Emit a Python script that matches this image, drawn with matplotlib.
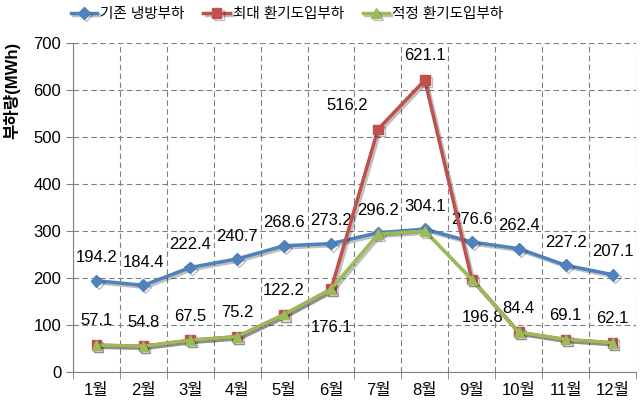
import numpy as np
import matplotlib.pyplot as plt
import matplotlib.patheffects as pe

plt.rcParams['font.family'] = ['Liberation Sans', 'Noto Sans CJK KR']

months = ['1월', '2월', '3월', '4월', '5월', '6월', '7월', '8월', '9월', '10월', '11월', '12월']
base_load = [194.2, 184.4, 222.4, 240.7, 268.6, 273.2, 296.2, 304.1, 276.6, 262.4, 227.2, 207.1]
max_vent = [57.1, 54.8, 67.5, 75.2, 122.2, 176.1, 516.2, 621.1, 196.8, 84.4, 69.1, 62.1]
opt_vent = [57.1, 54.8, 67.5, 75.2, 122.2, 176.1, 293.0, 300.0, 196.8, 84.4, 69.1, 62.1]
series_names = ['기존 냉방부하', '최대 환기도입부하', '적정 환기도입부하']

fig = plt.figure(figsize=(6.43, 4.05), dpi=100)
ax = fig.add_axes([73 / 643, 33 / 405, 563 / 643, 329 / 405])
x = np.arange(len(months))

shadow = [pe.SimpleLineShadow(offset=(1.5, -1.5), alpha=0.25), pe.Normal()]
ax.plot(x, base_load, color='#4F81BD', lw=2.5, marker='D', ms=6, label=series_names[0],
        path_effects=shadow, zorder=3)
ax.plot(x, max_vent, color='#C0504D', lw=2.5, marker='s', ms=7, label=series_names[1],
        path_effects=shadow, zorder=4)
ax.plot(x, opt_vent, color='#9BBB59', lw=2.5, marker='^', ms=7, label=series_names[2],
        path_effects=shadow, zorder=5)

# data labels
for i, v in enumerate(base_load):
    ax.annotate(f'{v:.1f}', (i, v), xytext=(0, 11), textcoords='offset points',
                ha='center', va='bottom', fontsize=12)
red_offsets = {5: (0, -22), 6: (-22, 12), 8: (8, -22)}
for i, v in enumerate(max_vent):
    dx, dy = red_offsets.get(i, (0, 12))
    ax.annotate(f'{v:.1f}', (i, v), xytext=(dx, dy), textcoords='offset points',
                ha='center', va='bottom' if dy > 0 else 'top', fontsize=12)

ax.set_xlim(-0.5, len(months) - 0.5)
ax.set_ylim(0, 700)
ax.set_yticks(np.arange(0, 701, 100))
ax.set_xticks(x)
ax.set_xticklabels(months)
ax.set_xticks(np.arange(-0.5, len(months), 1), minor=True)
ax.tick_params(axis='x', which='major', length=0, labelsize=12, pad=8)
ax.tick_params(axis='x', which='minor', length=5, color='#808080', direction='out')
ax.tick_params(axis='y', length=5, color='#808080', labelsize=12, direction='out')
ax.grid(True, axis='y', which='major', ls=(0, (5, 3)), color='#808080', lw=0.8)
ax.grid(True, axis='x', which='minor', ls=(0, (5, 3)), color='#808080', lw=0.8)
for s in ['top', 'right']:
    ax.spines[s].set_visible(False)
for s in ['left', 'bottom']:
    ax.spines[s].set_color('#808080')

fig.text(12 / 643, 1 - 90 / 405, '부하량(MWh)', rotation=90, ha='center', va='center',
         fontsize=12, fontweight='bold')

fig.legend(loc='center', bbox_to_anchor=(287 / 643, 1 - 14 / 405), ncol=3, frameon=False,
           fontsize=10.5, handlelength=1.8, columnspacing=1.3, handletextpad=0.2)

fig.savefig('out.png', dpi=100)
